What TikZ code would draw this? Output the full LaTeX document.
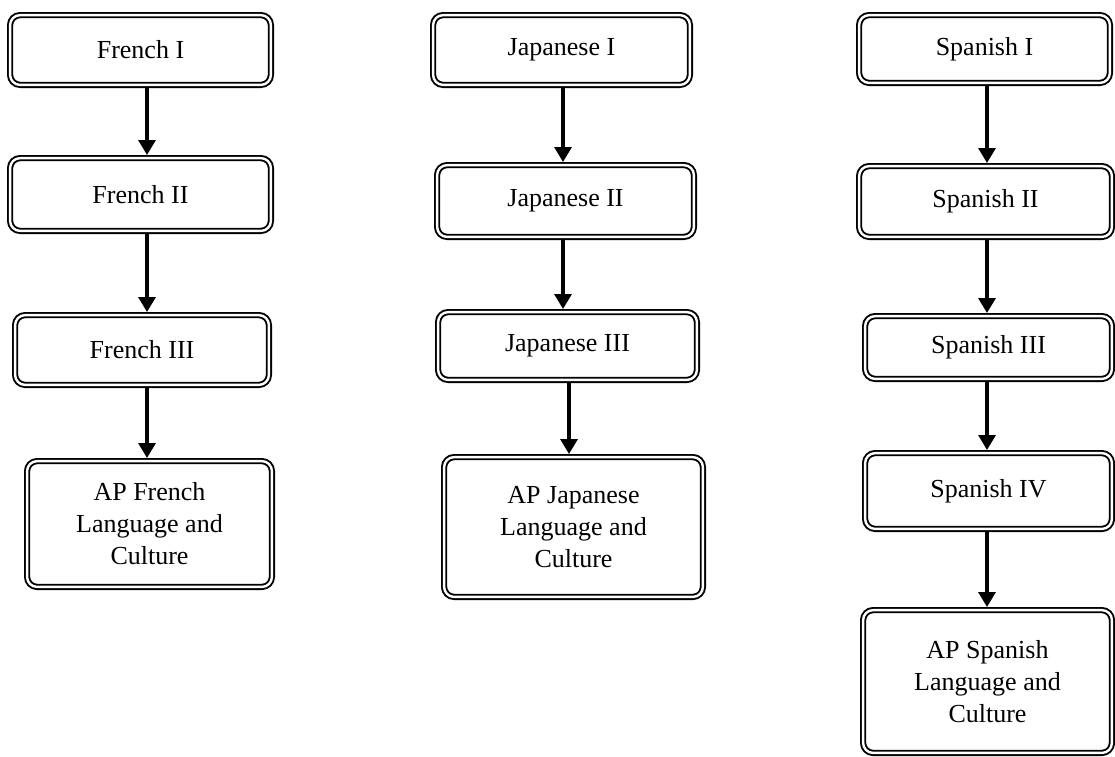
\documentclass[tikz,border=0pt]{standalone}
\usepackage{fontspec}
\setmainfont{Liberation Serif}
\usetikzlibrary{arrows.meta}

\begin{document}
\begin{tikzpicture}[x=1pt,y=-1pt,
    course/.style={draw, rounded corners=10pt, double=white, line width=1.9pt,
        double distance=2.4pt, outer sep=3.1pt, inner sep=0pt, align=center,
        font=\fontsize{26}{32}\selectfont},
    flow/.style={-{Triangle[length=15pt,width=17pt]}, line width=3.2pt}]

    \useasboundingbox (0,0) rectangle (1115,756);

    % French
    \node(f1)[course,minimum width=260.8pt,minimum height=69.8pt] at (140.5,50) {French I};
    \node(f2)[course,minimum width=260.8pt,minimum height=72.8pt] at (140.5,194.5) {French II};
    \node(f3)[course,minimum width=253.8pt,minimum height=69.8pt] at (142,350) {French III};
    \node(f4)[course,minimum width=244.8pt,minimum height=125.8pt] at (149.5,524) {AP French\\Language and\\Culture};

    % Japanese
    \node(j1)[course,minimum width=256.8pt,minimum height=69.8pt] at (561.5,50) {Japanese I};
    \node(j2)[course,minimum width=256.8pt,minimum height=71.8pt] at (565.5,201) {Japanese II};
    \node(j3)[course,minimum width=258.8pt,minimum height=67.8pt] at (567.5,346) {Japanese III};
    \node(j4)[course,minimum width=258.8pt,minimum height=139.8pt] at (573.5,527) {AP Japanese\\Language and\\Culture};

    % Spanish
    \node(s1)[course,minimum width=250.8pt,minimum height=67.8pt] at (984.5,49) {Spanish I};
    \node(s2)[course,minimum width=252.8pt,minimum height=70.8pt] at (985.5,201.5) {Spanish II};
    \node(s3)[course,minimum width=246.8pt,minimum height=62.8pt] at (988.5,347.5) {Spanish III};
    \node(s4)[course,minimum width=246.8pt,minimum height=75.8pt] at (988.5,491) {Spanish IV};
    \node(s5)[course,minimum width=248.8pt,minimum height=142.8pt] at (987.5,681.5) {AP Spanish\\Language and\\Culture};

    \coordinate(fa) at (147,0);
    \coordinate(ja) at (563,0);
    \coordinate(jb) at (569,0);
    \coordinate(sa) at (987,0);

    \draw[flow] (f1.south -| fa) -- (f2.north -| fa);
    \draw[flow] (f2.south -| fa) -- (f3.north -| fa);
    \draw[flow] (f3.south -| fa) -- (f4.north -| fa);

    \draw[flow] (j1.south -| ja) -- (j2.north -| ja);
    \draw[flow] (j2.south -| ja) -- (j3.north -| ja);
    \draw[flow] (j3.south -| jb) -- (j4.north -| jb);

    \draw[flow] (s1.south -| sa) -- (s2.north -| sa);
    \draw[flow] (s2.south -| sa) -- (s3.north -| sa);
    \draw[flow] (s3.south -| sa) -- (s4.north -| sa);
    \draw[flow] (s4.south -| sa) -- (s5.north -| sa);

\end{tikzpicture}
\end{document}
